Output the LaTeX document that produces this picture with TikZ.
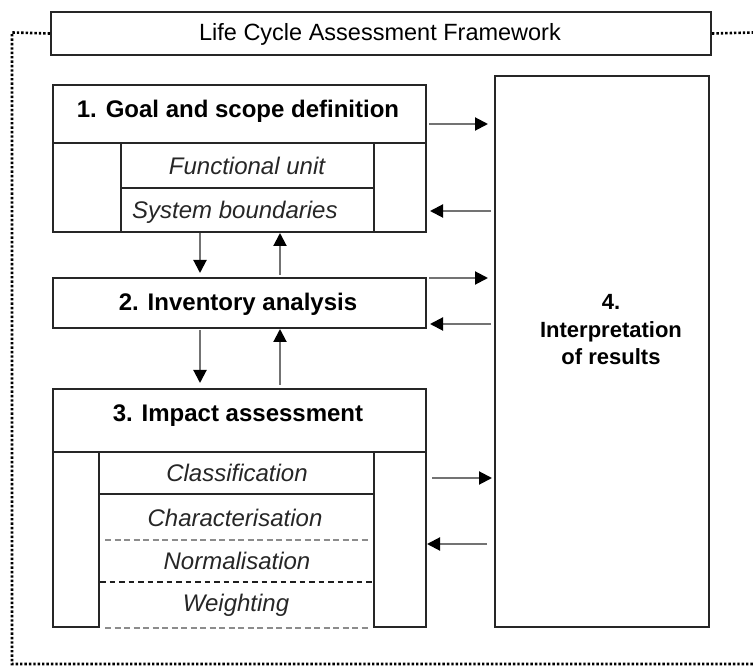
\documentclass[tikz,border=0pt]{standalone}
\usepackage{fontspec}
\setmainfont{Liberation Sans}
\usetikzlibrary{arrows.meta,calc}
\begin{document}
\begin{tikzpicture}[x=1pt,y=-1pt,
  box/.style={draw=black!85,line width=2pt,inner sep=0pt,anchor=north west},
  lbl/.style={inner sep=0pt,text height=17pt,text depth=0pt},
  hd/.style={lbl,font=\fontsize{24}{28}\selectfont\bfseries},
  it/.style={lbl,font=\fontsize{24}{28}\selectfont\itshape,text=black!85},
  arr/.style={draw=black!55,line width=2pt,-{Triangle[length=13pt,width=13pt,color=black]}},
  dotline/.style={draw=black,line width=2.6pt,dash pattern=on 2.4pt off 2pt},
  gdash/.style={draw=black!45,line width=2pt,dash pattern=on 6pt off 3.5pt},
  kdash/.style={draw=black!88,line width=1.8pt,dash pattern=on 5.5pt off 4pt}]
\useasboundingbox (0,0) rectangle (753,668);
% title
\node[box,minimum width=660pt,minimum height=43pt] (title) at (50,11) {};
\node[lbl,font=\fontsize{23.5}{28}\selectfont] (ttl) at (380,32.5) {Life Cycle Assessment Framework};
% box 1
\node[box,minimum width=373pt,minimum height=58pt] (g1h) at (52,84) {};
\node[box,minimum width=68pt,minimum height=89pt] (g1l) at (52,142) {};
\node[box,minimum width=253pt,minimum height=45pt] (g1fu) at (120,142) {};
\node[box,minimum width=253pt,minimum height=44pt] (g1sb) at (120,187) {};
\node[box,minimum width=52pt,minimum height=89pt] (g1r) at (373,142) {};
\node[hd] (t1) at (238,109) {1. Goal and scope definition};
\node[it] (tfu) at (247,166) {Functional unit};
\node[it,anchor=west] (tsb) at (132,210) {System boundaries};
% box 2
\node[box,minimum width=373pt,minimum height=50pt] (g2) at (52,277) {};
\node[hd] (t2) at (238,302) {2. Inventory analysis};
% box 3
\node[box,minimum width=373pt,minimum height=63pt] (g3h) at (52,388) {};
\node[box,minimum width=46pt,minimum height=175pt] (g3l) at (52,451) {};
\node[box,minimum width=52pt,minimum height=175pt] (g3r) at (373,451) {};
\node[box,minimum width=275pt,minimum height=42pt] (g3cl) at (98,451) {};
\node[hd] (t3) at (238,413) {3. Impact assessment};
\node[it] (tcl) at (237,473) {Classification};
\node[it] (tch) at (235,518) {Characterisation};
\node[it] (tno) at (237,561) {Normalisation};
\node[it] (twe) at (236,603) {Weighting};
\draw[gdash] ($(g3l.east)+(5,0)$) coordinate (c1) -- ($(c1 -| g3r.west)+(-5,0)$);
\draw[kdash] ($(g3l.north east)+(0,131)$) coordinate (c2) -- (c2 -| g3r.west);
\draw[gdash] ($(g3l.south east)+(5,0)$) coordinate (c3) -- ($(g3r.south west)+(-5,0)$);
% box 4
\node[box,minimum width=214pt,minimum height=551pt] (g4) at (494,75) {};
\node[inner sep=0pt,font=\fontsize{22}{27.5}\selectfont\bfseries,align=center] (t4) at (611,330) {4.\\Interpretation\\of results};
% dotted frame
\coordinate (fl) at (12,32.5);
\coordinate (fb) at (12,664);
\coordinate (fbr) at (753,664);
\coordinate (fr) at (753,32.5);
\draw[dotline] (title.west) -- (fl) -- (fb) -- (fbr);
\draw[dotline] (title.east) -- (fr);
% horizontal arrows
\coordinate (a1) at ($(g1h.east)+(2,10)$);
\draw[arr,shorten >=6pt] (a1) -- (a1 -| g4.west);
\coordinate (b1) at ($(g1r.east)+(0,23.5)$);
\draw[arr,shorten <=3pt,shorten >=3pt] (b1 -| g4.west) -- (b1);
\coordinate (a2) at ($(g2.north east)+(2,1)$);
\draw[arr,shorten >=6pt] (a2) -- (a2 -| g4.west);
\coordinate (b2) at ($(g2.south east)+(0,-5)$);
\draw[arr,shorten <=3pt,shorten >=3pt] (b2 -| g4.west) -- (b2);
\coordinate (a3) at ($(g3r.north east)+(5,27)$);
\draw[arr,shorten >=2pt] (a3) -- (a3 -| g4.west);
\coordinate (b3) at ($(g3r.north east)+(0,93)$);
\draw[arr,shorten <=7pt] (b3 -| g4.west) -- (b3);
% vertical arrows
\coordinate (d1) at ($(g2.north west)+(148,0)$);
\draw[arr,shorten >=4pt] (d1 |- g1l.south) -- (d1);
\coordinate (u1) at ($(g2.north west)+(228,0)$);
\draw[arr,shorten <=2pt] (u1) -- (u1 |- g1l.south);
\coordinate (d2) at ($(g3h.north west)+(148,0)$);
\draw[arr,shorten <=1pt,shorten >=5pt] (d2 |- g2.south) -- (d2);
\coordinate (u2) at ($(g3h.north west)+(228,0)$);
\draw[arr,shorten <=3pt] (u2) -- (u2 |- g2.south);
\end{tikzpicture}
\end{document}
